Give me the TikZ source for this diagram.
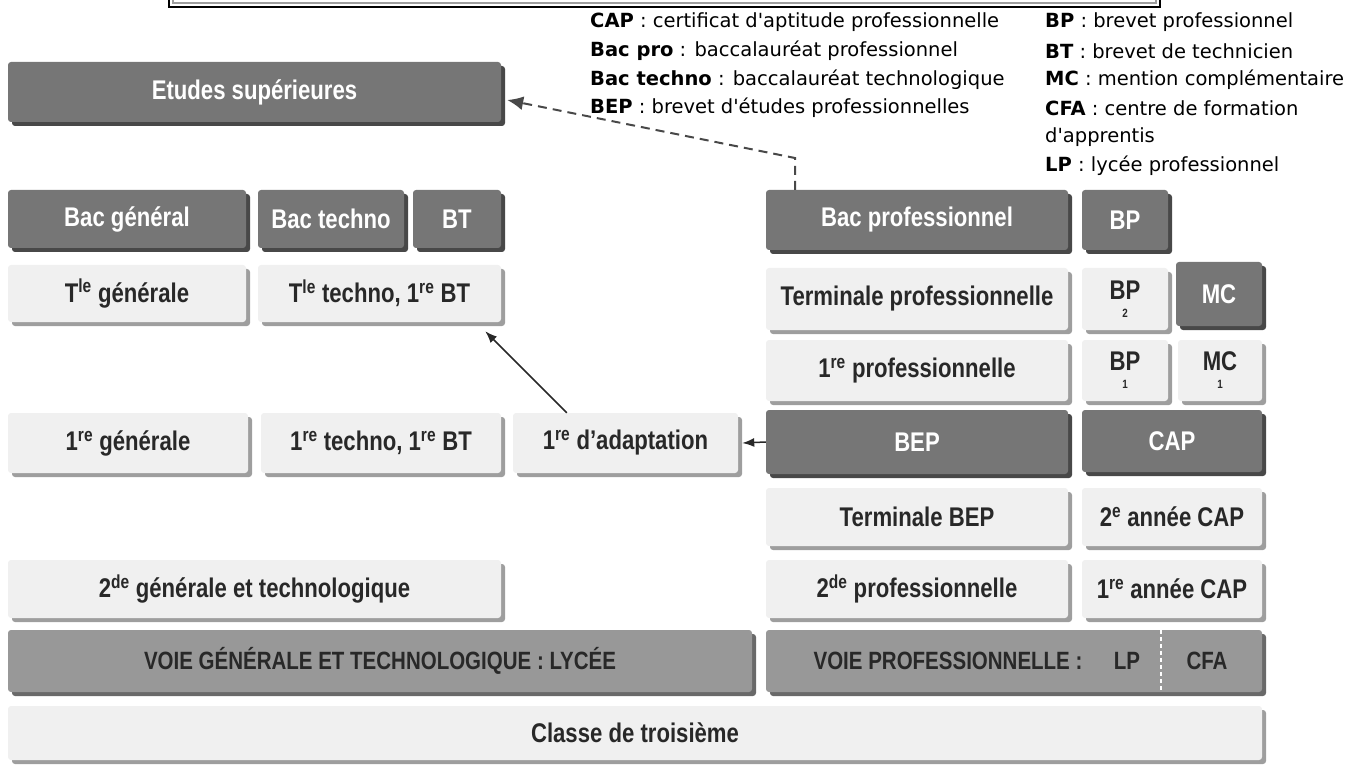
\documentclass[tikz,border=0pt]{standalone}
\usepackage{fontspec}
\setmainfont{DejaVu Sans}
\newfontfamily\boitefont[FakeStretch=0.82]{Liberation Sans}
\usetikzlibrary{arrows.meta,shadows}

\definecolor{fonce}{RGB}{118,118,118}
\definecolor{ombrefonce}{RGB}{72,72,72}
\definecolor{clair}{RGB}{240,240,240}
\definecolor{ombreclair}{RGB}{158,158,158}
\definecolor{moyen}{RGB}{152,152,152}
\definecolor{ombremoyen}{RGB}{105,105,105}
\definecolor{texte}{RGB}{40,40,40}

\begin{document}
\begin{tikzpicture}[x=1pt,y=-1pt,
  bloc/.style={rounded corners=3pt, inner sep=0pt, align=center,
    font=\boitefont\bfseries\fontsize{27}{24}\selectfont},
  sombre/.style={bloc, fill=fonce, text=white,
    drop shadow={shadow xshift=4pt, shadow yshift=-4pt, opacity=1, fill=ombrefonce}},
  pale/.style={bloc, fill=clair, text=texte,
    drop shadow={shadow xshift=4pt, shadow yshift=-4pt, opacity=1, fill=ombreclair}},
  voie/.style={bloc, fill=moyen, text=texte,
    drop shadow={shadow xshift=4pt, shadow yshift=-4pt, opacity=1, fill=ombremoyen}},
  voietexte/.style={inner sep=0pt, text=texte,
    font=\boitefont\bfseries\fontsize{25}{24}\selectfont},
  legende/.style={anchor=west, inner sep=0pt, font=\fontsize{19.5}{24}\selectfont},
  fleche/.style={draw=texte, line width=1.5pt, -{Latex[length=12pt,width=9pt]}},
  pointille/.style={draw=ombrefonce, line width=2pt, dash pattern=on 9pt off 6pt,
    -{Latex[length=16pt,width=14pt]}}]
\useasboundingbox (0,0) rectangle (1354,767);
% boite : style, nom, x1, y1, x2, y2, texte
\newcommand\boite[7]{
\node[#1, minimum width={(#5-#3)*1pt}, minimum height={(#6-#4)*1pt}] (#2) at ({(#3+#5)/2},{(#4+#6)/2}) {#7};
}
\newcommand\indice[1]{\\[-6pt]{\fontsize{12}{12}\selectfont #1}}

% cadre du haut
\draw[ombreclair, line width=2pt] (173,-5) |- (1156,3) -- (1156,-5);
\draw[line width=2.5pt] (169,-5) |- (1160,7) -- (1160,-5);

% legende
\node[legende] (l1) at (590,22) {\textbf{CAP} : certificat d\textquotesingle aptitude professionnelle};
\node[legende] (l2) at (590,51) {\textbf{Bac pro} : baccalauréat professionnel};
\node[legende] (l3) at (590,80) {\textbf{Bac techno} : baccalauréat technologique};
\node[legende] (l4) at (590,108) {\textbf{BEP} : brevet d\textquotesingle études professionnelles};
\node[legende] (r1) at (1045,22) {\textbf{BP} : brevet professionnel};
\node[legende] (r2) at (1045,51) {\textbf{BT} : brevet de technicien};
\node[legende] (r3) at (1045,80) {\textbf{MC} : mention complémentaire};
\node[legende] (r4) at (1045,108) {\textbf{CFA} : centre de formation};
\node[legende] (r5) at (1045,137) {d\textquotesingle apprentis};
\node[legende] (r6) at (1045,166) {\textbf{LP} : lycée professionnel};

% voie generale
\boite{sombre}{etudes}{8}{62}{501}{122}{Etudes supérieures}
\boite{sombre}{bacgen}{8}{190}{246}{248}{Bac général}
\boite{sombre}{bactechno}{258}{190}{404}{248}{Bac techno}
\boite{sombre}{bt}{413}{190}{501}{248}{BT}
\boite{pale}{tlegen}{8}{265}{246}{322}{T\textsuperscript{le} générale}
\boite{pale}{tletechno}{258}{265}{501}{322}{T\textsuperscript{le} techno, 1\textsuperscript{re} BT}
\boite{pale}{premgen}{8}{413}{248}{473}{1\textsuperscript{re} générale}
\boite{pale}{premtechno}{261}{413}{501}{473}{1\textsuperscript{re} techno, 1\textsuperscript{re} BT}
\boite{pale}{adapt}{513}{413}{738}{473}{1\textsuperscript{re} d’adaptation}
\boite{pale}{secgen}{8}{560}{501}{618}{2\textsuperscript{de} générale et technologique}

% voie professionnelle
\boite{sombre}{bacpro}{766}{190}{1068}{250}{Bac professionnel}
\boite{sombre}{bp}{1082}{190}{1168}{250}{BP}
\boite{pale}{tlepro}{766}{268}{1068}{330}{Terminale professionnelle}
\boite{pale}{bpdeux}{1082}{268}{1168}{330}{BP\indice{2}}
\boite{sombre}{mc}{1176}{262}{1262}{326}{MC}
\boite{pale}{prempro}{766}{340}{1068}{401}{1\textsuperscript{re} professionnelle}
\boite{pale}{bpun}{1082}{340}{1168}{401}{BP\indice{1}}
\boite{pale}{mcun}{1178}{340}{1262}{401}{MC\indice{1}}
\boite{sombre}{bep}{766}{410}{1068}{474}{BEP}
\boite{sombre}{cap}{1082}{410}{1262}{472}{CAP}
\boite{pale}{termbep}{766}{488}{1068}{546}{Terminale BEP}
\boite{pale}{deuxcap}{1082}{488}{1262}{546}{2\textsuperscript{e} année CAP}
\boite{pale}{secpro}{766}{560}{1068}{618}{2\textsuperscript{de} professionnelle}
\boite{pale}{premcap}{1082}{560}{1262}{618}{1\textsuperscript{re} année CAP}

% bas
\boite{voie}{voiegen}{8}{630}{752}{692}{}
\node[voietexte] (vg) at (voiegen) {VOIE GÉNÉRALE ET TECHNOLOGIQUE : LYCÉE};
\boite{voie}{voiepro}{766}{630}{1262}{692}{}
\node[voietexte] (vp) at (948,661) {VOIE PROFESSIONNELLE :};
\node[voietexte] (lp) at (1127,661) {LP};
\node[voietexte] (cfa) at (1207,661) {CFA};
\draw[white, line width=1.5pt, dash pattern=on 4pt off 3pt] (voiepro.north -| 1161,0) -- (voiepro.south -| 1161,0);
\boite{pale}{troisieme}{8}{706}{1262}{760}{Classe de troisième}

% fleches
\coordinate (coude) at (795,158);
\path[pointille] (bacpro.north -| coude) -- (coude) -- ([xshift=6pt,yshift=-8pt]etudes.east);
\path[fleche] (bep.west) -- ([xshift=4pt]adapt.east);
\path[fleche] ([xshift=54pt]adapt.north west) -- ([xshift=-16pt,yshift=-9pt]tletechno.south east);
\end{tikzpicture}
\end{document}
